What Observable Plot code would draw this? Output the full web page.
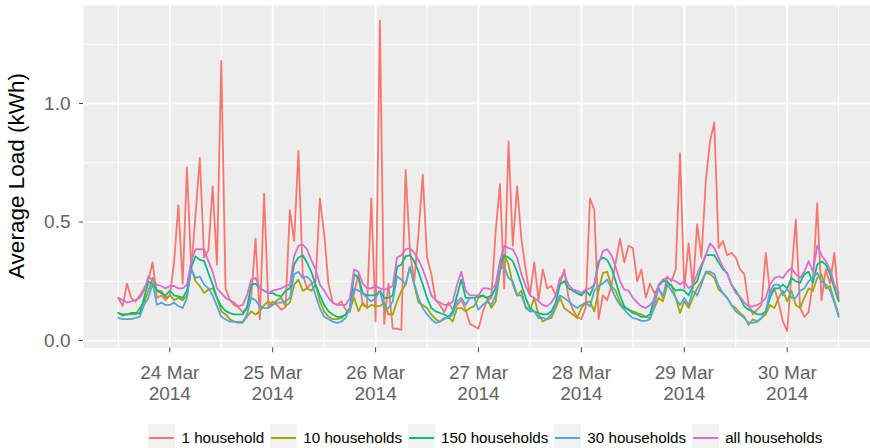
<!DOCTYPE html>
<html><head><meta charset="utf-8">
<script src="https://cdn.jsdelivr.net/npm/d3@7"></script>
<script src="https://cdn.jsdelivr.net/npm/@observablehq/plot@0.6"></script>
<style>
body{margin:0;background:#fff;font-family:"Liberation Sans",Arial,Helvetica,sans-serif;}
#wrap{position:relative;width:870px;height:448px;overflow:hidden;}
#chart{position:absolute;left:0;top:0;}
#ytitle{position:absolute;left:17px;top:176px;transform:translate(-50%,-50%) rotate(-90deg);font-size:22.5px;white-space:nowrap;color:#000;}
#legend{position:absolute;top:424px;left:148px;display:flex;align-items:center;font-size:15.2px;color:#000;white-space:nowrap;}
.key{width:27px;height:28px;background:#F2F2F2;position:relative;margin-right:6.5px;flex:none;}
.key span{position:absolute;left:1px;right:1px;top:13px;height:2px;}
.lab{margin-right:5.5px;line-height:28px;}
g[aria-label="x-axis tick"],g[aria-label="y-axis tick"]{stroke:#444;}
g[aria-label="x-axis tick label"],g[aria-label="y-axis tick label"],
g[aria-label="x-axis tick label"] text,g[aria-label="y-axis tick label"] text{fill:#636363;}
</style>
</head><body>
<div id="wrap"><div id="chart"></div><div id="ytitle">Average Load (kWh)</div><div id="legend"></div></div>
<script>
// Series names and colours
const seriesNames = ["1 household","10 households","150 households","30 households","all households"];
const seriesColors = ["#F8766D","#A3A500","#00BF7D","#56A5DC","#D66FD3"];

// Hourly readings from 2014-03-23 12:00 UTC to 2014-03-30 12:00 UTC (169 values each)
const hh1 = [
0.18,0.145,0.24,0.18,0.165,0.19,0.22,0.255,0.33,0.18,0.19,0.17,
0.19,0.33,0.57,0.24,0.73,0.30,0.53,0.77,0.35,0.38,0.65,0.32,
1.18,0.22,0.17,0.15,0.14,0.12,0.14,0.19,0.43,0.09,0.62,0.14,
0.165,0.15,0.13,0.14,0.55,0.42,0.80,0.28,0.22,0.24,0.25,0.60,
0.45,0.24,0.16,0.15,0.165,0.13,0.12,0.20,0.28,0.15,0.14,0.60,
0.08,1.35,0.07,0.24,0.05,0.05,0.045,0.72,0.38,0.25,0.45,0.70,
0.35,0.28,0.17,0.15,0.12,0.16,0.13,0.15,0.17,0.13,0.07,0.06,
0.05,0.12,0.17,0.18,0.46,0.66,0.22,0.84,0.40,0.65,0.43,0.30,
0.19,0.33,0.17,0.30,0.22,0.23,0.19,0.24,0.30,0.18,0.13,0.10,
0.09,0.14,0.60,0.55,0.09,0.19,0.17,0.23,0.33,0.43,0.33,0.40,
0.39,0.25,0.30,0.18,0.24,0.20,0.22,0.18,0.27,0.25,0.30,0.79,
0.22,0.41,0.22,0.49,0.35,0.67,0.84,0.92,0.39,0.42,0.36,0.37,
0.35,0.30,0.28,0.15,0.11,0.13,0.15,0.37,0.20,0.22,0.16,0.08,
0.04,0.28,0.51,0.14,0.10,0.12,0.25,0.58,0.17,0.30,0.24,0.37,
0.17];
const hh10 = [
0.116,0.105,0.11,0.11,0.11,0.137,0.16,0.21,0.264,0.21,0.21,0.18,
0.19,0.17,0.18,0.17,0.19,0.306,0.25,0.23,0.20,0.215,0.22,0.18,
0.123,0.11,0.09,0.08,0.078,0.08,0.10,0.123,0.11,0.123,0.15,0.165,
0.15,0.17,0.18,0.145,0.16,0.236,0.257,0.21,0.22,0.21,0.236,0.165,
0.123,0.10,0.09,0.09,0.095,0.11,0.137,0.18,0.123,0.16,0.137,0.15,
0.145,0.145,0.16,0.11,0.11,0.165,0.21,0.236,0.31,0.236,0.16,0.15,
0.137,0.11,0.09,0.08,0.09,0.10,0.08,0.137,0.137,0.123,0.137,0.145,
0.18,0.19,0.18,0.137,0.165,0.29,0.36,0.32,0.236,0.19,0.21,0.137,
0.123,0.18,0.11,0.08,0.09,0.095,0.137,0.18,0.137,0.123,0.11,0.095,
0.137,0.16,0.165,0.123,0.21,0.285,0.29,0.23,0.21,0.16,0.137,0.13,
0.123,0.116,0.11,0.10,0.095,0.137,0.18,0.165,0.23,0.236,0.18,0.116,
0.165,0.137,0.18,0.22,0.25,0.285,0.28,0.264,0.215,0.20,0.18,0.15,
0.137,0.116,0.10,0.066,0.09,0.08,0.095,0.11,0.15,0.137,0.18,0.21,
0.165,0.21,0.15,0.137,0.18,0.22,0.21,0.264,0.28,0.22,0.23,0.165,
0.11];
const hh150 = [
0.116,0.11,0.11,0.116,0.116,0.113,0.18,0.247,0.24,0.21,0.20,0.19,
0.21,0.19,0.186,0.18,0.21,0.31,0.355,0.34,0.335,0.285,0.236,0.18,
0.145,0.125,0.116,0.11,0.11,0.11,0.137,0.236,0.24,0.22,0.21,0.20,
0.20,0.19,0.186,0.21,0.22,0.32,0.35,0.36,0.33,0.29,0.236,0.19,
0.15,0.123,0.11,0.10,0.10,0.11,0.137,0.28,0.264,0.20,0.19,0.19,
0.19,0.21,0.18,0.18,0.19,0.31,0.32,0.355,0.36,0.335,0.29,0.236,
0.18,0.137,0.123,0.116,0.11,0.10,0.123,0.19,0.257,0.18,0.18,0.18,
0.186,0.19,0.18,0.19,0.22,0.32,0.36,0.35,0.335,0.29,0.236,0.18,
0.137,0.123,0.116,0.11,0.11,0.123,0.16,0.236,0.25,0.22,0.21,0.20,
0.19,0.21,0.19,0.236,0.335,0.35,0.34,0.306,0.25,0.19,0.144,0.13,
0.116,0.11,0.10,0.10,0.11,0.18,0.23,0.25,0.25,0.23,0.21,0.215,
0.21,0.19,0.23,0.25,0.31,0.36,0.36,0.36,0.33,0.30,0.285,0.236,
0.21,0.18,0.144,0.13,0.123,0.11,0.11,0.123,0.18,0.22,0.22,0.236,
0.22,0.264,0.25,0.243,0.28,0.29,0.243,0.32,0.335,0.32,0.28,0.22,
0.165];
const hh30 = [
0.095,0.09,0.09,0.09,0.095,0.10,0.15,0.18,0.24,0.15,0.16,0.15,
0.15,0.16,0.145,0.137,0.18,0.30,0.264,0.27,0.236,0.22,0.19,0.145,
0.10,0.09,0.08,0.08,0.074,0.074,0.11,0.18,0.17,0.145,0.137,0.137,
0.15,0.16,0.16,0.165,0.18,0.28,0.29,0.264,0.27,0.25,0.19,0.137,
0.10,0.09,0.08,0.074,0.08,0.095,0.137,0.22,0.21,0.20,0.18,0.165,
0.18,0.21,0.137,0.137,0.165,0.27,0.257,0.236,0.31,0.24,0.18,0.137,
0.11,0.09,0.074,0.08,0.095,0.095,0.11,0.165,0.18,0.15,0.18,0.18,
0.13,0.15,0.165,0.15,0.19,0.306,0.31,0.264,0.25,0.19,0.19,0.144,
0.123,0.123,0.095,0.095,0.09,0.11,0.15,0.19,0.18,0.165,0.15,0.137,
0.15,0.16,0.144,0.21,0.23,0.24,0.257,0.22,0.18,0.15,0.13,0.11,
0.095,0.09,0.083,0.083,0.09,0.15,0.22,0.19,0.24,0.21,0.18,0.15,
0.18,0.15,0.21,0.19,0.236,0.29,0.29,0.28,0.23,0.20,0.18,0.15,
0.123,0.11,0.095,0.074,0.074,0.08,0.095,0.123,0.21,0.236,0.236,0.19,
0.22,0.18,0.18,0.21,0.22,0.25,0.264,0.285,0.25,0.236,0.21,0.16,
0.10];
const hhAll = [
0.18,0.17,0.16,0.165,0.17,0.18,0.21,0.27,0.255,0.236,0.23,0.22,
0.23,0.23,0.22,0.22,0.236,0.335,0.385,0.385,0.385,0.335,0.29,0.22,
0.20,0.18,0.17,0.16,0.144,0.15,0.19,0.257,0.264,0.22,0.21,0.20,
0.21,0.215,0.22,0.23,0.236,0.356,0.40,0.405,0.385,0.34,0.30,0.236,
0.21,0.18,0.16,0.15,0.15,0.15,0.18,0.30,0.29,0.24,0.22,0.22,
0.23,0.22,0.215,0.22,0.23,0.35,0.36,0.385,0.39,0.37,0.34,0.30,
0.25,0.19,0.17,0.16,0.15,0.15,0.165,0.236,0.29,0.21,0.19,0.19,
0.19,0.22,0.22,0.215,0.236,0.335,0.40,0.39,0.385,0.35,0.28,0.23,
0.19,0.18,0.165,0.15,0.144,0.16,0.19,0.264,0.28,0.236,0.215,0.21,
0.20,0.215,0.22,0.236,0.32,0.377,0.385,0.36,0.31,0.25,0.215,0.21,
0.18,0.16,0.144,0.137,0.15,0.17,0.236,0.257,0.264,0.257,0.25,0.236,
0.25,0.22,0.236,0.28,0.32,0.36,0.41,0.39,0.35,0.31,0.28,0.236,
0.20,0.186,0.16,0.144,0.144,0.15,0.16,0.18,0.236,0.264,0.27,0.264,
0.29,0.306,0.28,0.264,0.29,0.335,0.29,0.40,0.36,0.335,0.30,0.236,
0.20];

// Axis ticks
const yMajor = [0, 0.5, 1.0];
const yMinor = [0.25, 0.75, 1.25];
const dayTicks = ["2014-03-24","2014-03-25","2014-03-26","2014-03-27","2014-03-28","2014-03-29","2014-03-30"].map(s => new Date(s + "T00:00:00Z"));
const noonTicks = ["2014-03-23","2014-03-24","2014-03-25","2014-03-26","2014-03-27","2014-03-28","2014-03-29","2014-03-30"].map(s => new Date(s + "T12:00:00Z"));

const start = Date.UTC(2014, 2, 23, 12);
const seriesValues = [hh1, hh10, hh150, hh30, hhAll];
const data = seriesNames.flatMap((name, k) =>
  seriesValues[k].map((v, i) => ({time: new Date(start + i * 3600e3), load: v, series: name})));

const DAY = 864e5;
const W = 870, H = 420;
const chart = Plot.plot({
  width: W, height: H,
  marginLeft: 83, marginRight: 0, marginTop: 5, marginBottom: H - 347.3,
  x: {type: "utc", domain: [new Date(Date.UTC(2014,2,24) - 0.8387 * DAY), new Date(Date.UTC(2014,2,30) + 0.8095 * DAY)]},
  y: {domain: [-0.0308, 1.4135]},
  color: {domain: seriesNames, range: seriesColors},
  style: {fontFamily: '"Liberation Sans", Arial, Helvetica, sans-serif', fontSize: "19px", background: "transparent", overflow: "visible"},
  marks: [
    Plot.frame({fill: "#EDEDED", stroke: "none"}),
    Plot.ruleY(yMinor, {stroke: "white", strokeWidth: 0.95}),
    Plot.ruleX(noonTicks, {stroke: "white", strokeWidth: 0.95}),
    Plot.ruleY(yMajor, {stroke: "white", strokeWidth: 1.9}),
    Plot.ruleX(dayTicks, {stroke: "white", strokeWidth: 1.9}),
    Plot.line(data, {x: "time", y: "load", z: "series", stroke: "series", strokeWidth: 1.8}),
    Plot.axisX(dayTicks, {tickSize: 5, tickPadding: 12, label: null, lineHeight: 1.08,
      tickFormat: d => d3.utcFormat("%d %b")(d) + "\n" + d3.utcFormat("%Y")(d)}),
    Plot.axisY(yMajor, {tickSize: 4, tickPadding: 9, label: null, tickFormat: d3.format(".1f")})
  ]
});
document.getElementById("chart").appendChild(chart);

const legend = document.getElementById("legend");
seriesNames.forEach((name, k) => {
  const key = document.createElement("div");
  key.className = "key";
  const ln = document.createElement("span");
  ln.style.background = seriesColors[k];
  key.appendChild(ln);
  const lab = document.createElement("div");
  lab.className = "lab";
  lab.textContent = name;
  legend.appendChild(key);
  legend.appendChild(lab);
});
</script>
</body></html>
